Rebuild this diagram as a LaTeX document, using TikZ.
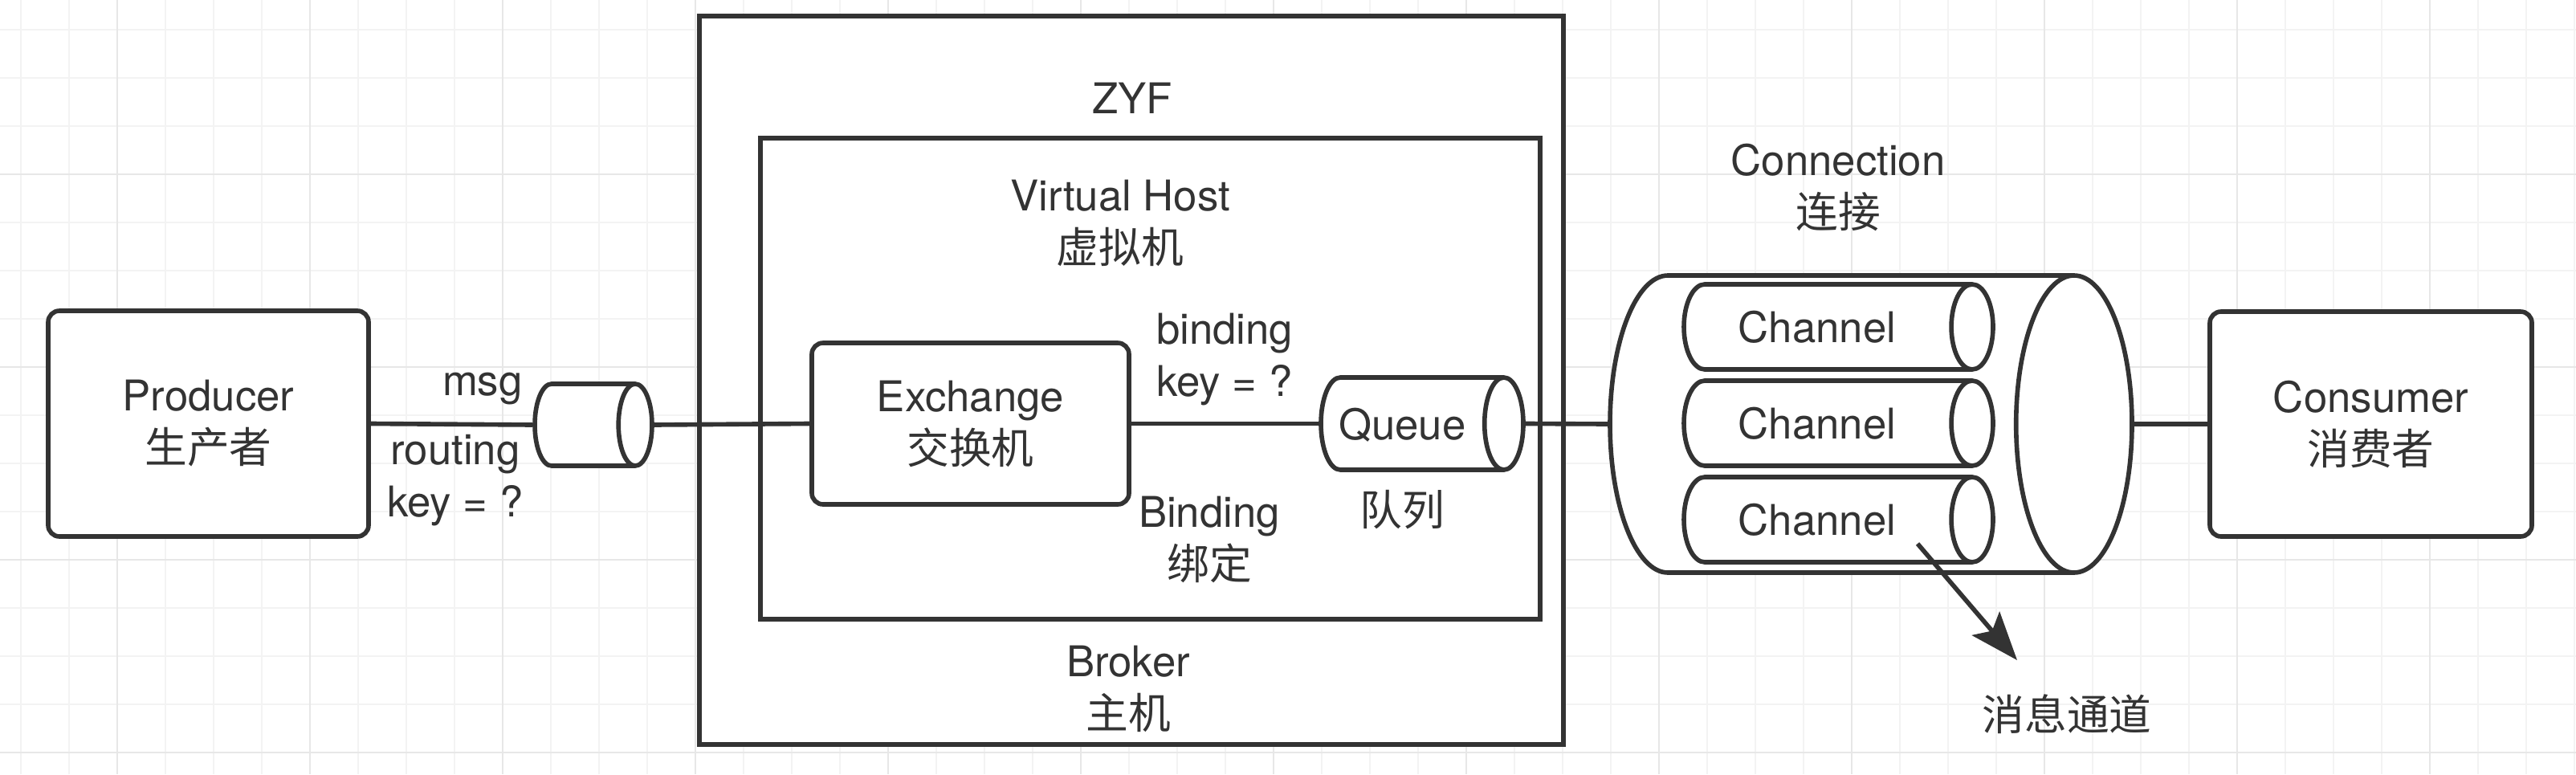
\documentclass[tikz,border=0pt]{standalone}
\usepackage{fontspec}
\setmainfont{TeX Gyre Heros}
\newfontfamily\zh{Noto Sans CJK SC}
\usetikzlibrary{positioning, arrows.meta, shapes.geometric}
\definecolor{linegray}{HTML}{333333}
\definecolor{gridminor}{HTML}{F3F3F3}
\definecolor{gridmajor}{HTML}{E7E7E7}

\begin{document}
\begin{tikzpicture}[
  box/.style={draw=linegray, line width=1.6pt, fill=white, inner sep=0pt, align=center},
  roundbox/.style={box, rounded corners=0.14cm},
  pipe/.style={box, cylinder, shape border rotate=0, anchor=shape center, text height=0.39cm, text depth=0cm, inner xsep=0pt},
  link/.style={draw=linegray, line width=1.6pt},
  every node/.style={font=\fontsize{15}{18.5}\selectfont, text=linegray}
]
\useasboundingbox (0,0) rectangle (32.08,-9.64);
\fill[white] (0,0) rectangle (32.08,-9.64);
% Grid
\foreach \x in {0,...,53} \draw[gridminor, line width=0.6pt] ({0.26+0.6*\x},0) -- ++(0,-9.64);
\foreach \y in {0,...,15} \draw[gridminor, line width=0.6pt] (0,{-0.37-0.6*\y}) -- ++(32.08,0);
\foreach \x in {0,...,12} \draw[gridmajor, line width=0.6pt] ({1.46+2.4*\x},0) -- ++(0,-9.64);
\foreach \y in {0,...,3} \draw[gridmajor, line width=0.6pt] (0,{-2.17-2.4*\y}) -- ++(32.08,0);
% Broker and virtual host
\node[box, minimum width=10.76cm, minimum height=9.07cm] (broker) at (14.09,-4.735) {};
\node[box, minimum width=9.71cm, minimum height=5.99cm] (vhost) at (14.325,-4.715) {};
\node (zyf) at (14.10,-1.22) {ZYF};
\node[align=center] (vhostlabel) at (13.95,-2.78) {Virtual Host\\{\zh 虚拟机}};
\node[align=center] (brokerlabel) at (14.05,-8.58) {Broker\\{\zh 主机}};
% Producer and consumer
\node[roundbox, minimum width=3.99cm, minimum height=2.81cm] (prod) at (2.595,-5.275) {Producer\\{\zh 生产者}};
\node[roundbox, minimum width=4.01cm, minimum height=2.80cm] (cons) at (29.525,-5.28) {Consumer\\{\zh 消费者}};
% Message
\node[pipe, shape aspect=0.41, inner ysep=0.315cm, minimum height=1.46cm] (msg) at (7.39,-5.29) {};
\node[anchor=base east] (msglabel) at (6.63,-4.92) {msg};
\node[align=center] (routing) at (5.67,-5.98) {routing\\key = ?};
% Exchange and queue
\node[roundbox, minimum width=3.95cm, minimum height=2.01cm] (exch) at (12.085,-5.275) {Exchange\\{\zh 交换机}};
\node[pipe, shape aspect=0.42, inner ysep=0.38cm, minimum height=2.52cm] (queue) at (17.71,-5.275) {Queue};
\node (queuelabel) at (17.46,-6.35) {\zh 队列};
\node[align=center] (bindkey) at (15.25,-4.48) {binding\\key = ?};
\node[align=center] (binding) at (15.06,-6.72) {Binding\\{\zh 绑定}};
% Connection with channels
\node[pipe, shape aspect=0.39, inner ysep=1.655cm, minimum height=6.5cm] (conn) at (23.30,-5.28) {};
\node[align=center] (connlabel) at (22.89,-2.33) {Connection\\{\zh 连接}};
\node[pipe, shape aspect=0.49, inner ysep=0.335cm, minimum height=3.85cm] (ch1) at (22.895,-4.07) {Channel};
\node[pipe, shape aspect=0.49, inner ysep=0.335cm, minimum height=3.85cm] (ch2) at (22.895,-5.27) {Channel};
\node[pipe, shape aspect=0.49, inner ysep=0.335cm, minimum height=3.85cm] (ch3) at (22.895,-6.47) {Channel};
\node (chanlabel) at (25.74,-8.89) {\zh 消息通道};
% Links
\draw[link] (prod.east) -- (msg.west);
\draw[link] (msg.east) -- (exch.west);
\draw[link] (exch.east) -- (queue.west);
\draw[link] (queue.east) -- (conn.west);
\draw[link] (conn.east) -- (cons.west);
\coordinate (tail) at (23.88,-6.77);
\coordinate (tip) at (25.12,-8.22);
\draw[link, -{Stealth[length=0.6cm, width=0.45cm, inset=0.12cm]}] (tail) -- (tip);
\end{tikzpicture}
\end{document}
